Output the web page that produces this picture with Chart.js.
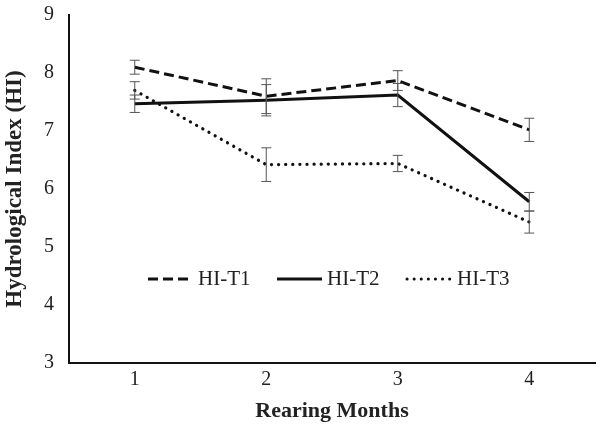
<!DOCTYPE html>
<html>
<head>
<meta charset="utf-8">
<script src="https://cdn.jsdelivr.net/npm/chart.js@4.4.0/dist/chart.umd.min.js"></script>
<style>
  html, body { margin: 0; padding: 0; background: #fff; }
  #wrap { width: 603px; height: 427px; }
</style>
</head>
<body>
<div id="wrap"><canvas id="hiChart"></canvas></div>
<script>
// Datos
const months = ['1', '2', '3', '4'];
const hiT1 = [8.1, 7.6, 7.87, 7.02];
const hiT1Err = [0.12, 0.3, 0.17, 0.2];
const hiT2 = [7.47, 7.53, 7.62, 5.78];
const hiT2Err = [0.15, 0.27, 0.2, 0.16];
const hiT3 = [7.7, 6.42, 6.44, 5.43];
const hiT3Err = [0.15, 0.29, 0.14, 0.19];
const yTicks = [3, 4, 5, 6, 7, 8, 9];

const serif = '"Liberation Serif", "Times New Roman", serif';

// Barras de error dibujadas con la escala Y
const errorBars = {
    id: 'errorBars',
    afterDatasetsDraw(chart) {
        const ctx = chart.ctx;
        const yScale = chart.scales.y;
        ctx.save();
        ctx.strokeStyle = '#555';
        ctx.lineWidth = 1;
        chart.data.datasets.forEach((ds, di) => {
            const meta = chart.getDatasetMeta(di);
            ds.data.forEach((v, i) => {
                const e = ds.errors[i];
                const x = meta.data[i].x;
                const top = yScale.getPixelForValue(v + e);
                const bot = yScale.getPixelForValue(v - e);
                ctx.beginPath();
                ctx.moveTo(x, top); ctx.lineTo(x, bot);
                ctx.moveTo(x - 5, top); ctx.lineTo(x + 5, top);
                ctx.moveTo(x - 5, bot); ctx.lineTo(x + 5, bot);
                ctx.stroke();
            });
        });
        ctx.restore();
    }
};

// Leyenda dentro del area del grafico
const innerLegend = {
    id: 'innerLegend',
    afterDraw(chart) {
        const ctx = chart.ctx;
        const y = chart.scales.y.getPixelForValue(4.45);
        const starts = [148, 277, 407];
        ctx.save();
        ctx.font = '21px ' + serif;
        ctx.fillStyle = '#222';
        ctx.textBaseline = 'middle';
        chart.data.datasets.forEach((ds, i) => {
            const x0 = starts[i];
            ctx.beginPath();
            ctx.strokeStyle = '#111';
            ctx.lineWidth = 3;
            ctx.lineCap = ds.borderCapStyle || 'butt';
            ctx.setLineDash(ds.borderDash || []);
            ctx.moveTo(x0, y);
            ctx.lineTo(x0 + 45, y);
            ctx.stroke();
            ctx.setLineDash([]);
            ctx.fillText(ds.label, x0 + 50, y + 1);
        });
        ctx.restore();
    }
};

const config = {
    type: 'line',
    data: {
        labels: months,
        datasets: [
            {
                label: 'HI-T1',
                data: hiT1,
                errors: hiT1Err,
                borderColor: '#111',
                borderWidth: 3,
                borderDash: [10, 5],
                pointRadius: 0,
                tension: 0
            },
            {
                label: 'HI-T2',
                data: hiT2,
                errors: hiT2Err,
                borderColor: '#111',
                borderWidth: 3,
                pointRadius: 0,
                tension: 0
            },
            {
                label: 'HI-T3',
                data: hiT3,
                errors: hiT3Err,
                borderColor: '#111',
                borderWidth: 3.2,
                borderDash: [0.1, 7],
                borderCapStyle: 'round',
                pointRadius: 0,
                tension: 0
            }
        ]
    },
    options: {
        responsive: true,
        maintainAspectRatio: false,
        animation: false,
        layout: { padding: { top: 15, right: 8, left: 0, bottom: 0 } },
        plugins: {
            legend: { display: false },
            tooltip: { enabled: false }
        },
        scales: {
            x: {
                offset: true,
                grid: { display: false, drawTicks: false },
                border: { display: true, color: '#111', width: 2 },
                ticks: { color: '#222', font: { family: serif, size: 20 }, padding: 5 },
                title: {
                    display: true,
                    text: 'Rearing Months',
                    color: '#222',
                    font: { family: serif, size: 22, weight: 'bold' },
                    padding: { top: 2, bottom: 2 }
                },
                afterFit(scale) {
                    scale.height = 64;
                    scale.paddingLeft = 0;
                    scale.paddingRight = 0;
                }
            },
            y: {
                min: 3,
                max: 9,
                afterBuildTicks(scale) { scale.ticks = yTicks.map(v => ({ value: v })); },
                grid: { display: false, drawTicks: false },
                border: { display: true, color: '#111', width: 2 },
                ticks: { color: '#222', font: { family: serif, size: 20 }, padding: 15 },
                title: {
                    display: true,
                    text: 'Hydrological Index (HI)',
                    color: '#222',
                    font: { family: serif, size: 23, weight: 'bold' },
                    padding: { top: 1, bottom: 2 }
                },
                afterFit(scale) {
                    scale.width = 69;
                    scale.paddingTop = 0;
                    scale.paddingBottom = 0;
                }
            }
        }
    },
    plugins: [errorBars, innerLegend]
};

new Chart(document.getElementById('hiChart').getContext('2d'), config);
</script>
</body>
</html>
